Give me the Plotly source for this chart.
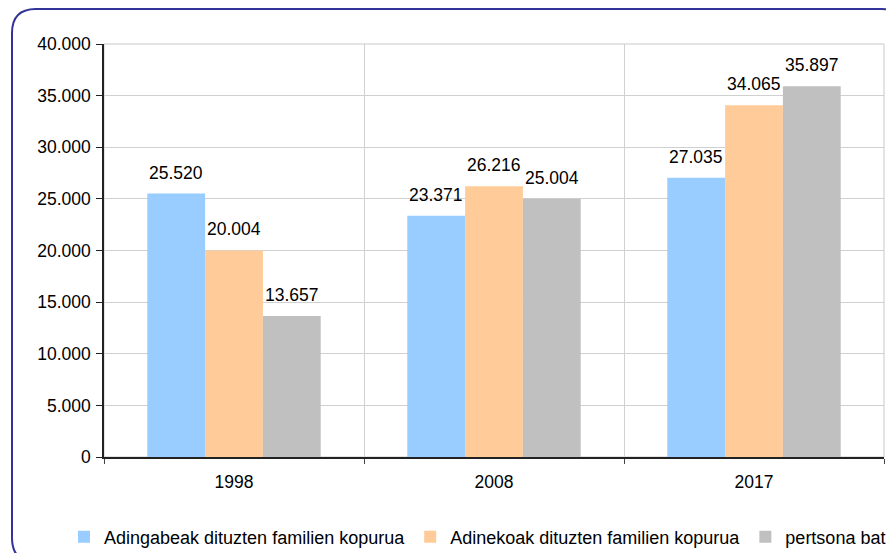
import plotly.graph_objects as go

years = ["1998", "2008", "2017"]
series_names = [
    "Adingabeak dituzten familien kopurua",
    "Adinekoak dituzten familien kopurua",
    "pertsona bat",
]
values_minors = [25520, 23371, 27035]
values_elderly = [20004, 26216, 34065]
values_single = [13657, 25004, 35897]
colors = ["#99CCFF", "#FFCC99", "#C0C0C0"]
y_ticks = [0, 5000, 10000, 15000, 20000, 25000, 30000, 35000, 40000]


def fmt(v):
    return f"{v:,}".replace(",", ".")


# the page body adds an 8px offset; work in reference pixels minus 8
OFF = 8
W, H = 894 - OFF, 553 - OFF
L, T = 104 - OFF, 44 - OFF
R = W - (884 - OFF)
B = H - (457 - OFF)
pw, ph = W - L - R, H - T - B

FONT = "Liberation Sans, Arial, sans-serif"
FS = 17.5

fig = go.Figure()
all_series = [values_minors, values_elderly, values_single]
for name, vals, col in zip(series_names, all_series, colors):
    fig.add_trace(go.Bar(
        x=years, y=vals, name=name, marker=dict(color=col, line=dict(width=0)),
        offsetgroup=name,
    ))

n = len(all_series)
group_frac = 1 - 0.333
bw = group_frac / n
for si, vals in enumerate(all_series):
    for ci, v in enumerate(vals):
        xpos = ci - group_frac / 2 + bw * (si + 0.5)
        fig.add_annotation(
            x=xpos, y=v, xref="x", yref="y", text=fmt(v), showarrow=False,
            yanchor="middle", yshift=21, font=dict(size=FS, color="#000", family=FONT),
        )


def px2paper(px, py):
    # px, py in reference pixels
    return (px - OFF - L) / pw, (H - B - (py - OFF)) / ph


x0, y0, x1, y1, r = 12, 9, 905, 562, 24
def P(px, py):
    a, b = px2paper(px, py)
    return f"{a:.5f},{b:.5f}"
path = (
    f"M {P(x0, y0 + r)} Q {P(x0, y0)} {P(x0 + r, y0)} "
    f"L {P(x1 - r, y0)} Q {P(x1, y0)} {P(x1, y0 + r)} "
    f"L {P(x1, y1 - r)} Q {P(x1, y1)} {P(x1 - r, y1)} "
    f"L {P(x0 + r, y1)} Q {P(x0, y1)} {P(x0, y1 - r)} Z"
)
fig.add_shape(type="path", path=path, xref="paper", yref="paper",
              line=dict(color="#333399", width=2), fillcolor="rgba(0,0,0,0)", layer="above")

fig.add_shape(type="rect", xref="paper", yref="paper", x0=0, y0=0, x1=1, y1=1,
              line=dict(color="#C8C8C8", width=1), layer="below")

lx, ly = px2paper(64, 537)
fig.update_layout(
    width=W, height=H,
    margin=dict(l=L, r=R, t=T, b=B, pad=0, autoexpand=False),
    paper_bgcolor="white", plot_bgcolor="white",
    barmode="group", bargap=0.333, bargroupgap=0,
    font=dict(family=FONT, size=FS, color="#000"),
    showlegend=True,
    legend=dict(orientation="h", x=lx, xanchor="left",
                y=ly, yanchor="middle",
                font=dict(size=18, family=FONT), itemwidth=30,
                bgcolor="rgba(0,0,0,0)", tracegroupgap=0),
)
fig.update_xaxes(
    type="category", tickson="boundaries", showgrid=True, gridcolor="#D0D0D0",
    gridwidth=1, showline=True, linecolor="#222", linewidth=1.5,
    ticks="outside", ticklen=5, tickcolor="#444", tickfont=dict(size=FS, family=FONT),
    ticklabelstandoff=8,
    range=[-0.5, 2.5], automargin=False,
)
fig.update_yaxes(
    range=[0, 40000], tickvals=y_ticks, ticktext=[fmt(v) for v in y_ticks],
    showgrid=True, gridcolor="#D0D0D0", gridwidth=1, zeroline=False,
    showline=True, linecolor="#222", linewidth=1.5,
    ticks="outside", ticklen=6, tickcolor="#222", tickfont=dict(size=FS, family=FONT),
    ticklabelstandoff=2,
    automargin=False,
)

fig.write_html("out.html")
